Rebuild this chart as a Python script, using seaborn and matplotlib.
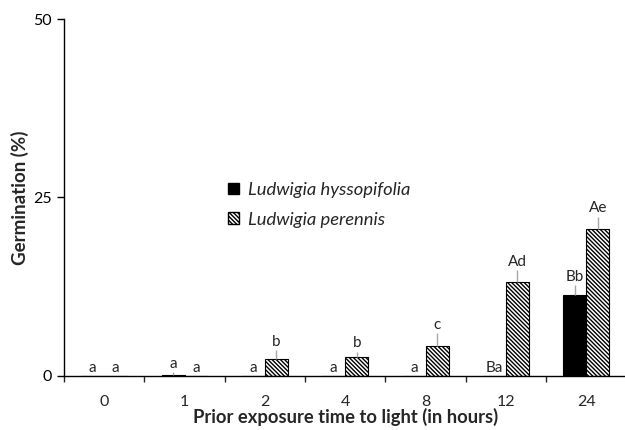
import matplotlib
matplotlib.use('Agg')
import matplotlib.pyplot as plt
import matplotlib.patches as mpatches
import seaborn as sns
import pandas as pd

# Data
hours = ['0', '1', '2', '4', '8', '12', '24']
hyssopifolia = [0, 0.2, 0, 0, 0, 0, 11.3]
hyssopifolia_err = [0, 0.3, 0, 0, 0, 0, 1.4]
perennis = [0, 0, 2.4, 2.6, 4.2, 13.2, 20.6]
perennis_err = [0, 0, 1.2, 0.8, 1.8, 1.6, 1.7]
hyssopifolia_letters = ['a', 'a', 'a', 'a', 'a', 'Ba', 'Bb']
perennis_letters = ['a', 'a', 'b', 'b', 'c', 'Ad', 'Ae']
species = ['Ludwigia hyssopifolia', 'Ludwigia perennis']

df = pd.DataFrame({
    'hours': hours * 2,
    'germination': hyssopifolia + perennis,
    'species': [species[0]] * len(hours) + [species[1]] * len(hours),
})

sns.set_style('ticks')
plt.rcParams['font.family'] = ['Lato', 'DejaVu Sans']
plt.rcParams['hatch.linewidth'] = 1.0

fig = plt.figure(figsize=(6.25, 4.3), dpi=100)
ax = fig.add_axes([0.1024, 0.1256, 0.9, 0.8302])

sns.barplot(data=df, x='hours', y='germination', hue='species', order=hours,
            hue_order=species, palette=['black', 'white'], edgecolor='black',
            linewidth=0.8, width=0.57, errorbar=None, legend=False, ax=ax)

# hatch the L. perennis bars, add one-sided error bars and letters
bar_groups = list(ax.containers)
all_err = [hyssopifolia_err, perennis_err]
all_letters = [hyssopifolia_letters, perennis_letters]
for i, container in enumerate(bar_groups):
    for j, bar in enumerate(container.patches):
        if i == 1:
            bar.set_hatch('\\\\\\\\\\\\\\\\')
        xc = bar.get_x() + bar.get_width() / 2
        h = bar.get_height()
        err = all_err[i][j]
        if err > 0:
            ax.errorbar(xc, h, yerr=[[0], [err]], fmt='none', ecolor='#a6a6a6',
                        elinewidth=1, capsize=0)
        ax.text(xc, h + err + 0.2, all_letters[i][j], ha='center', va='bottom',
                fontsize=11)

ax.set_xlim(-0.5, 6.5)
ax.set_ylim(0, 50)
ax.set_yticks([0, 25, 50])
ax.tick_params(axis='y', length=5, width=1, labelsize=11.5, colors='black', pad=4)
ax.tick_params(axis='x', which='major', length=0, labelsize=11.5, pad=14)
ax.set_xticks([k + 0.5 for k in range(-1, 7)], minor=True)
ax.tick_params(axis='x', which='minor', length=4, width=1)

ax.set_xlabel('Prior exposure time to light (in hours)', fontsize=13.2,
              fontweight='bold', labelpad=-1)
ax.set_ylabel('Germination (%)', fontsize=13.5, fontweight='bold', labelpad=3)

sns.despine(ax=ax)
for s in ['left', 'bottom']:
    ax.spines[s].set_linewidth(1)
    ax.spines[s].set_color('black')

handles = [mpatches.Patch(facecolor='black', edgecolor='black'),
           mpatches.Patch(facecolor='white', edgecolor='black', hatch='\\\\\\\\\\\\\\\\')]
ax.legend(handles, species, loc='upper left', bbox_to_anchor=(0.262, 0.59),
          frameon=False, handlelength=0.6, handleheight=0.6, handletextpad=0.5,
          labelspacing=0.75, prop={'style': 'italic', 'size': 13.2})

fig.savefig('out.png', dpi=100)
